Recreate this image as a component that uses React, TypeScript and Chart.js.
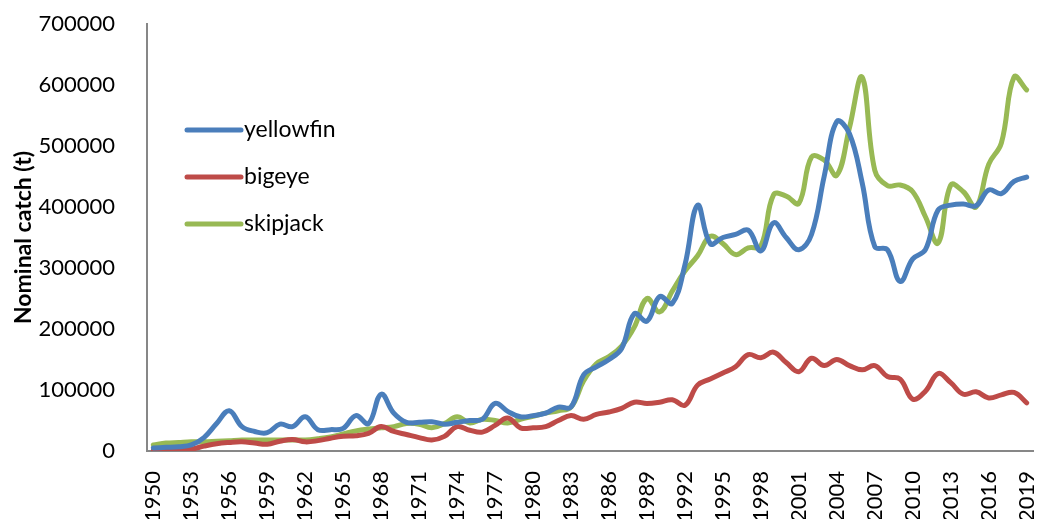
import React, { useEffect, useRef } from "react";
import { Chart, registerables } from "chart.js";

Chart.register(...registerables);

const years: string[] = [];
for (let y = 1950; y <= 2019; y++) years.push(String(y));

const yellowfin = [
  5000, 6000, 7000, 10000, 22000, 45000, 66000, 40000, 32000, 30000,
  44000, 40000, 56000, 35000, 35000, 37000, 58000, 45000, 93000, 62000,
  47000, 47000, 48000, 44000, 47000, 50000, 52000, 78000, 65000, 56000,
  58000, 62000, 72000, 72000, 125000, 138000, 150000, 168000, 225000, 213000,
  253000, 242000, 305000, 403000, 340000, 350000, 355000, 362000, 328000, 374000,
  350000, 330000, 355000, 450000, 540000, 520000, 440000, 335000, 330000, 278000,
  315000, 330000, 395000, 403000, 405000, 402000, 428000, 422000, 442000, 449000,
];

const bigeye = [
  1000, 1000, 2000, 3000, 8000, 12000, 14000, 15000, 13000, 11000,
  16000, 19000, 15000, 17000, 21000, 24000, 25000, 29000, 40000, 32000,
  27000, 22000, 18000, 24000, 40000, 34000, 31000, 42000, 54000, 38000,
  38000, 40000, 50000, 58000, 52000, 60000, 64000, 70000, 80000, 78000,
  80000, 84000, 75000, 108000, 118000, 128000, 138000, 158000, 153000, 162000,
  145000, 130000, 152000, 140000, 150000, 140000, 133000, 140000, 122000, 118000,
  85000, 98000, 127000, 112000, 93000, 97000, 87000, 92000, 96000, 79000,
];

const skipjack = [
  10000, 13000, 14000, 15000, 15000, 16000, 17000, 18000, 18000, 18000,
  18000, 18000, 18000, 20000, 23000, 28000, 33000, 36000, 38000, 40000,
  45000, 44000, 38000, 45000, 56000, 46000, 52000, 50000, 46000, 52000,
  57000, 62000, 66000, 72000, 115000, 143000, 155000, 172000, 203000, 250000,
  228000, 262000, 295000, 320000, 352000, 340000, 322000, 333000, 336000, 420000,
  418000, 406000, 482000, 477000, 452000, 530000, 613000, 460000, 435000, 436000,
  425000, 384000, 341000, 436000, 425000, 400000, 470000, 505000, 613000, 592000,
];

const seriesNames = ["yellowfin", "bigeye", "skipjack"];
const seriesColors = ["#4A7EBB", "#BE4B48", "#98B954"];

const FONT = "Lato";

const legendPlugin = {
  id: "insideLegend",
  afterDraw(chart: any) {
    const ctx = chart.ctx;
    ctx.save();
    const x0 = 187;
    const x1 = 241;
    const ys = [130, 177, 224];
    chart.data.datasets.forEach((ds: any, i: number) => {
      ctx.strokeStyle = ds.borderColor;
      ctx.lineWidth = 5;
      ctx.lineCap = "round";
      ctx.beginPath();
      ctx.moveTo(x0, ys[i]);
      ctx.lineTo(x1, ys[i]);
      ctx.stroke();
      ctx.fillStyle = "#000";
      ctx.font = `23px ${FONT}`;
      ctx.textBaseline = "middle";
      ctx.textAlign = "left";
      ctx.fillText(ds.label, x1 + 3, ys[i]);
    });
    ctx.restore();
  },
};

export default function App() {
  const ref = useRef<HTMLCanvasElement>(null);
  useEffect(() => {
    document.body.style.margin = "0";
    const data = [yellowfin, bigeye, skipjack];
    const chart = new Chart(ref.current!, {
      type: "line",
      data: {
        labels: years,
        datasets: data.map((d, i) => ({
          label: seriesNames[i],
          data: d,
          borderColor: seriesColors[i],
          backgroundColor: seriesColors[i],
          borderWidth: 5,
          pointRadius: 0,
          tension: 0.4,
          borderCapStyle: "round" as const,
          borderJoinStyle: "round" as const,
          fill: false,
        })),
      },
      options: {
        responsive: false,
        animation: false,
        layout: { padding: { left: 0, right: 5, top: 24, bottom: 0 } },
        plugins: { legend: { display: false }, tooltip: { enabled: false } },
        scales: {
          x: {
            offset: true,
            grid: { display: false },
            border: { display: true, color: "#878787", width: 2 },
            ticks: {
              autoSkip: false,
              minRotation: 90,
              maxRotation: 90,
              padding: 12,
              color: "#000",
              font: { family: FONT, size: 22 },
              callback: (_v: any, i: number) => (i % 3 === 0 ? years[i] : ""),
            },
            afterFit: (s: any) => {
              s.height = 68;
              s.paddingLeft = 0;
              s.paddingRight = 0;
            },
          },
          y: {
            min: 0,
            max: 700000,
            grid: { display: false },
            border: { display: true, color: "#878787", width: 2 },
            ticks: {
              stepSize: 100000,
              padding: 24,
              color: "#000",
              font: { family: FONT, size: 22 },
              callback: (v: any) => String(v),
            },
            title: {
              display: true,
              text: "Nominal catch (t)",
              color: "#000",
              font: { family: FONT, size: 23, weight: "bold" },
              padding: { top: 10, bottom: 0 },
            },
            afterFit: (s: any) => {
              s.width = 147;
              s.paddingTop = 0;
              s.paddingBottom = 0;
            },
          },
        },
      },
      plugins: [legendPlugin],
    });
    return () => chart.destroy();
  }, []);
  return (
    <div style={{ position: "absolute", left: 0, top: 0, width: 1038, height: 519, background: "#fff" }}>
      <canvas ref={ref} width={1038} height={519} />
    </div>
  );
}
